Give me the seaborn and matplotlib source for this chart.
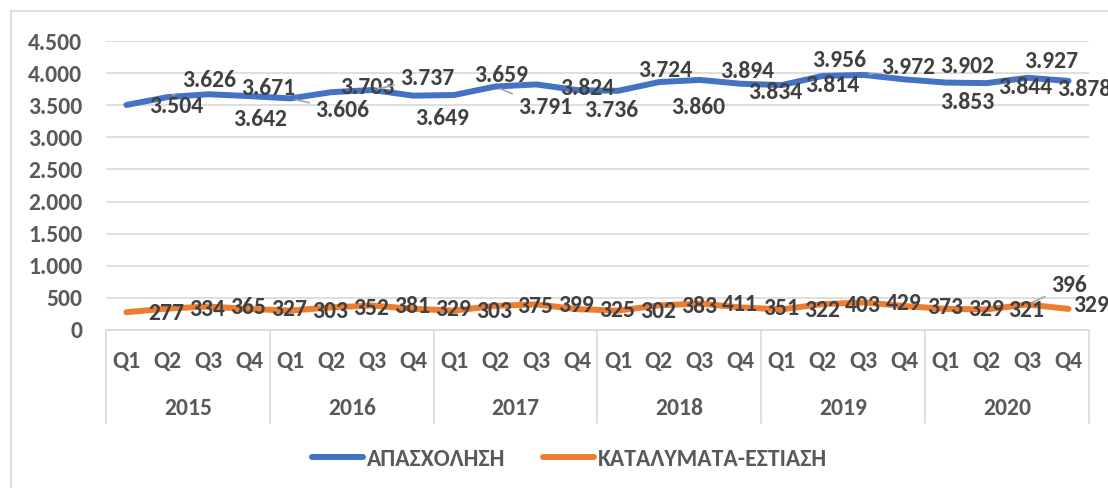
import matplotlib
matplotlib.use("Agg")
import matplotlib.pyplot as plt
from matplotlib.lines import Line2D
import seaborn as sns
import pandas as pd

# data
years = ["2015", "2016", "2017", "2018", "2019", "2020"]
quarters = ["Q1", "Q2", "Q3", "Q4"]
employment = [3504, 3626, 3671, 3642, 3606, 3703, 3737, 3649,
              3659, 3791, 3824, 3736, 3724, 3860, 3894, 3834,
              3814, 3956, 3972, 3902, 3853, 3844, 3927, 3878]
hospitality = [277, 334, 365, 327, 303, 352, 381, 329,
               303, 375, 399, 325, 302, 383, 411, 351,
               322, 403, 429, 373, 329, 321, 396, 329]
series_names = ["ΑΠΑΣΧΟΛΗΣΗ", "ΚΑΤΑΛΥΜΑΤΑ-ΕΣΤΙΑΣΗ"]
colors = ["#4472C4", "#ED7D31"]

# label offsets in pixels (dx right, dy down), mimicking Excel's placement
blue_offsets = [(50, 2), (42, -17), (60, -6), (11, 23), (52, 12), (36, -5),
                (55, -12), (29, 23), (47, -20), (50, 21), (51, 4), (34, 20),
                (47, -20), (39, 25), (47, -8), (34, 9), (50, 0), (16, -15),
                (44, -7), (63, -13), (22, 20), (39, 4), (24, -16), (16, 9)]
orange_offsets = [(40, 1)] * 22 + [(41, -19), (23, -3)]
blue_leaders = {1, 4, 6, 9, 18}
orange_leaders = {22}

sns.set_theme(style="white")
plt.rcParams["font.family"] = ["Carlito", "DejaVu Sans"]
plt.rcParams["font.weight"] = "bold"
FS = 17

n = len(employment)
labels = [q for y in years for q in quarters]
df = pd.DataFrame({
    "idx": list(range(n)) * 2,
    "value": employment + hospitality,
    "series": [series_names[0]] * n + [series_names[1]] * n,
})

fig = plt.figure(figsize=(11.08, 4.88), dpi=100)
ax = fig.add_axes([106 / 1108, 1 - 330 / 488, (1089 - 106) / 1108, (330 - 41) / 488])

sns.lineplot(data=df, x="idx", y="value", hue="series", palette=colors,
             linewidth=4.3, ax=ax, legend=False, solid_capstyle="round")

ax.set_xlim(-0.5, n - 0.5)
ax.set_ylim(0, 4500)
ax.set_yticks(range(0, 4501, 500))
ax.set_yticklabels([f"{v:,}".replace(",", ".") for v in range(0, 4501, 500)])
ax.yaxis.grid(True, color="#d9d9d9", linewidth=1.2)
ax.set_axisbelow(True)
for s in ["top", "right", "left"]:
    ax.spines[s].set_visible(False)
ax.spines["bottom"].set_color("#d9d9d9")
ax.spines["bottom"].set_linewidth(1.2)
ax.tick_params(axis="y", length=0, pad=17, labelsize=FS, labelcolor="#595959")
ax.set_xticks(range(n))
ax.set_xticklabels(labels)
ax.tick_params(axis="x", length=0, pad=15, labelsize=FS, labelcolor="#595959")
for t in ax.get_xticklabels() + ax.get_yticklabels():
    t.set_fontweight("bold")
ax.set_xlabel("")
ax.set_ylabel("")

# second level of the category axis: years and separators
xt = ax.get_xaxis_transform()
for k, yr in enumerate(years):
    ax.text(4 * k + 1.5, -0.27, yr, transform=xt, ha="center", va="center",
            fontsize=FS, fontweight="bold", color="#595959")
for b in range(len(years) + 1):
    ax.add_line(Line2D([4 * b - 0.5, 4 * b - 0.5], [0, -0.322], transform=xt,
                       color="#d9d9d9", linewidth=1.2, clip_on=False))

# data labels
def put_labels(values, offsets, leaders):
    for i, (v, (dx, dy)) in enumerate(zip(values, offsets)):
        txt = f"{v:,}".replace(",", ".")
        props = None
        if i in leaders:
            props = dict(arrowstyle="-", color="#a6a6a6", lw=1.2, shrinkA=2, shrinkB=4)
        ax.annotate(txt, xy=(i, v), xytext=(dx, -dy), textcoords="offset pixels",
                    ha="center", va="center", fontsize=FS, fontweight="bold",
                    color="#404040", arrowprops=props, annotation_clip=False)

put_labels(employment, blue_offsets, blue_leaders)
put_labels(hospitality, orange_offsets, orange_leaders)

# legend
handles = [Line2D([], [], color=c, linewidth=4.3, solid_capstyle="round") for c in colors]
leg = fig.legend(handles, series_names, loc="center", bbox_to_anchor=(0.514, 0.059),
                 ncol=2, frameon=False, handlelength=2.16, handletextpad=0.17,
                 columnspacing=1.6, prop={"size": FS, "weight": "bold"})
for t in leg.get_texts():
    t.set_color("#595959")

# chart border
fig.add_artist(Line2D([11 / 1108, 11 / 1108], [0, 1 - 11 / 488], transform=fig.transFigure,
                      color="#d9d9d9", linewidth=1.2))
fig.add_artist(Line2D([11 / 1108, 1], [1 - 11 / 488, 1 - 11 / 488], transform=fig.transFigure,
                      color="#d9d9d9", linewidth=1.2))

fig.savefig("out.png", dpi=100)
